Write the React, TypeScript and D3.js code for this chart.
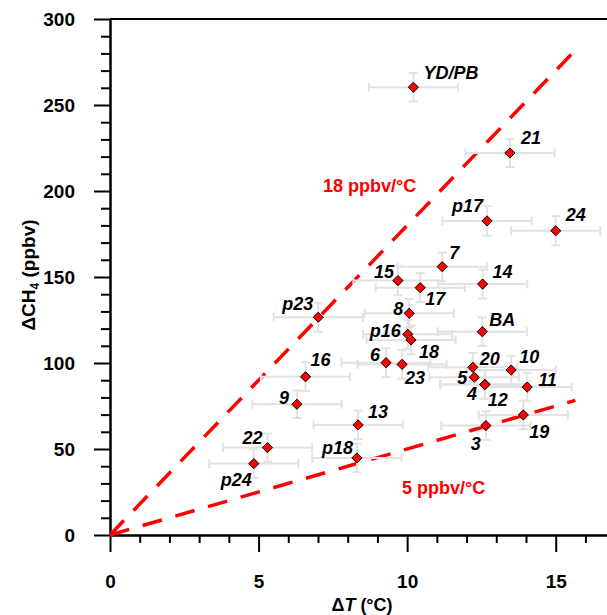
import React, { useEffect, useRef } from "react";
import * as d3 from "d3";

// ---------- data ----------
const pointLabels = ["YD/PB", "21", "p17", "24", "7", "15", "17", "14", "p23", "8", "BA", "p16", "18", "16", "6", "23", "20", "10", "5", "4", "12", "11", "9", "13", "19", "3", "22", "p18", "p24"];
const dT = [10.21, 13.46, 12.69, 15.0, 11.18, 9.69, 10.44, 12.54, 7.01, 10.07, 12.53, 10.02, 10.13, 6.58, 9.29, 9.83, 12.21, 13.5, 12.26, 12.62, 12.61, 14.04, 6.29, 8.35, 13.91, 12.65, 5.3, 8.31, 4.84];
const dCH4 = [260.3, 222.1, 182.6, 176.9, 156.0, 147.9, 143.8, 145.9, 126.6, 128.9, 118.2, 116.7, 113.4, 92.0, 100.2, 99.2, 97.5, 95.9, 91.7, 87.6, 87.4, 86.0, 76.0, 64.0, 69.8, 63.6, 50.8, 44.8, 41.5];
const dTErr = [1.5, 1.5, 1.5, 1.5, 1.5, 1.5, 1.5, 1.5, 1.5, 1.5, 1.5, 1.5, 1.5, 1.5, 1.5, 1.5, 1.5, 1.5, 1.5, 1.5, 1.5, 1.5, 1.5, 1.5, 1.5, 1.5, 1.5, 1.5, 1.5];
const dCH4Err = [8.3, 8.2, 8.6, 8.5, 8.2, 8.5, 8.4, 8.4, 8.4, 8.3, 8.3, 8.3, 8.3, 8.4, 8.4, 8.3, 8.3, 8.3, 8.3, 8.3, 8.3, 8.3, 8.0, 8.3, 8.3, 8.3, 8.2, 8.3, 8.3];

const xMajorTicks = [0, 5, 10, 15];
const xMinorTicks = [1, 2, 3, 4, 6, 7, 8, 9, 11, 12, 13, 14, 16];
const yMajorTicks = [0, 50, 100, 150, 200, 250, 300];
const yMinorTicks = [10, 20, 30, 40, 60, 70, 80, 90, 110, 120, 130, 140, 160, 170, 180, 190, 210, 220, 230, 240, 260, 270, 280, 290];

const slopes = [18, 5];
const slopeLabels = ["18 ppbv/°C", "5 ppbv/°C"];
const slopeLineEnd = [15.82, 15.66];

// ---------- layout ----------
const W = 607;
const H = 615;
const FONT = "'Liberation Sans', Arial, Helvetica, sans-serif";
const labelOffsets: Record<string, [string, number, number]> = {
  "YD/PB": ["start", 10, -15],
  "21": ["start", 11, -15],
  "p17": ["end", -4, -15],
  "24": ["start", 10, -16],
  "7": ["start", 7, -14],
  "15": ["end", -4, -9],
  "17": ["start", 5, 11],
  "14": ["start", 10, -12],
  "p23": ["end", -5, -14],
  "8": ["end", -6, -5],
  "BA": ["start", 7, -12],
  "p16": ["end", -7, -4],
  "18": ["start", 8, 12],
  "16": ["start", 5, -17],
  "6": ["end", -6, -8],
  "23": ["start", 3, 13],
  "20": ["start", 7, -9],
  "10": ["start", 8, -13],
  "5": ["end", -7, 0],
  "4": ["end", -8, 9],
  "12": ["start", 3, 15],
  "11": ["start", 11, -7],
  "9": ["end", -8, -7],
  "13": ["start", 10, -13],
  "19": ["start", 6, 17],
  "3": ["end", -5, 18],
  "22": ["end", -5, -10],
  "p18": ["end", -4, -10],
  "p24": ["end", -2, 16],
};
const slopeLabelPos = [
  [323, 191.5],
  [402, 493.5],
];

export default function App() {
  const ref = useRef<SVGSVGElement>(null);

  useEffect(() => {
    const svg = d3.select(ref.current);
    svg.selectAll("*").remove();

    const pxPerDeg = 148.57 / 5;
    const x = d3.scaleLinear().domain([0, 16.75]).range([110, 110 + 16.75 * pxPerDeg]);
    const y = d3.scaleLinear().domain([0, 300]).range([535, 19]);

    const styleAxis = (g: any) => {
      g.attr("font-family", FONT).attr("font-size", 19).attr("font-weight", "bold");
      g.selectAll("path,line").attr("stroke", "#000").attr("stroke-width", 2);
      g.selectAll("text").attr("fill", "#000");
    };

    // top frame line
    svg.append("line")
      .attr("x1", x(0)).attr("x2", W)
      .attr("y1", y(300)).attr("y2", y(300))
      .attr("stroke", "#000").attr("stroke-width", 2);

    // minor ticks
    svg.append("g").attr("transform", `translate(${x(0)},0)`)
      .call(d3.axisLeft(y).tickValues(yMinorTicks).tickSize(9).tickSizeOuter(0).tickFormat(() => ""))
      .call(styleAxis);
    svg.append("g").attr("transform", `translate(0,${y(0)})`)
      .call(d3.axisBottom(x).tickValues(xMinorTicks).tickSize(8).tickSizeOuter(0).tickFormat(() => ""))
      .call(styleAxis);

    // major axes
    svg.append("g").attr("transform", `translate(${x(0)},0)`)
      .call(d3.axisLeft(y).tickValues(yMajorTicks).tickSize(16).tickPadding(19).tickSizeOuter(0).tickFormat(d3.format("d")))
      .call(styleAxis);
    svg.append("g").attr("transform", `translate(0,${y(0)})`)
      .call(d3.axisBottom(x).tickValues(xMajorTicks).tickSize(17).tickPadding(23).tickSizeOuter(0).tickFormat(d3.format("d")))
      .call(styleAxis);

    // slope lines
    const line = d3.line<[number, number]>().x((d) => x(d[0])).y((d) => y(d[1]));
    slopes.forEach((s, i) => {
      svg.append("path")
        .attr("d", line([[0, 0], [slopeLineEnd[i], s * slopeLineEnd[i]]]))
        .attr("fill", "none")
        .attr("stroke", "#ff0000")
        .attr("stroke-width", 3.5)
        .attr("stroke-dasharray", "20 14");
      svg.append("text")
        .attr("x", slopeLabelPos[i][0]).attr("y", slopeLabelPos[i][1])
        .attr("font-family", FONT).attr("font-size", 18).attr("font-weight", "bold")
        .attr("fill", "#ff0000")
        .text(slopeLabels[i]);
    });

    // error bars
    const eb = svg.append("g").attr("stroke", "#e2e2e2").attr("stroke-width", 2).attr("fill", "none");
    const cap = 4.5;
    dT.forEach((t, i) => {
      const cx = x(t), cy = y(dCH4[i]);
      const xl = x(t - dTErr[i]), xr = x(t + dTErr[i]);
      const yt = y(dCH4[i] + dCH4Err[i]), yb = y(dCH4[i] - dCH4Err[i]);
      eb.append("line").attr("x1", xl).attr("x2", xr).attr("y1", cy).attr("y2", cy);
      eb.append("line").attr("x1", xl).attr("x2", xl).attr("y1", cy - cap).attr("y2", cy + cap);
      eb.append("line").attr("x1", xr).attr("x2", xr).attr("y1", cy - cap).attr("y2", cy + cap);
      eb.append("line").attr("x1", cx).attr("x2", cx).attr("y1", yt).attr("y2", yb);
      eb.append("line").attr("x1", cx - cap).attr("x2", cx + cap).attr("y1", yt).attr("y2", yt);
      eb.append("line").attr("x1", cx - cap).attr("x2", cx + cap).attr("y1", yb).attr("y2", yb);
    });

    // markers
    const diamond = d3.symbol().type(d3.symbolDiamond2).size(66);
    svg.append("g").selectAll("path")
      .data(dT.map((t, i) => [t, dCH4[i]]))
      .join("path")
      .attr("transform", (d) => `translate(${x(d[0])},${y(d[1])})`)
      .attr("d", diamond as any)
      .attr("fill", "#ff0000")
      .attr("stroke", "#000")
      .attr("stroke-width", 1);

    // point labels
    svg.append("g").selectAll("text")
      .data(pointLabels.map((l, i) => ({ l, t: dT[i], c: dCH4[i] })))
      .join("text")
      .attr("x", (d) => x(d.t) + labelOffsets[d.l][1])
      .attr("y", (d) => y(d.c) + labelOffsets[d.l][2] + 6.4)
      .attr("text-anchor", (d) => labelOffsets[d.l][0])
      .attr("font-family", FONT).attr("font-size", 18)
      .attr("font-weight", "bold").attr("font-style", "italic")
      .attr("fill", "#000")
      .text((d) => d.l);

    // axis titles
    const xt = svg.append("text")
      .attr("x", 362).attr("y", 610.5)
      .attr("text-anchor", "middle")
      .attr("font-family", FONT).attr("font-size", 18).attr("font-weight", "bold");
    xt.append("tspan").text("Δ");
    xt.append("tspan").attr("font-style", "italic").text("T");
    xt.append("tspan").text(" (°C)");

    const yt = svg.append("text")
      .attr("transform", "translate(35,275) rotate(-90)")
      .attr("text-anchor", "middle")
      .attr("font-family", FONT).attr("font-size", 19).attr("font-weight", "bold");
    yt.append("tspan").text("ΔCH");
    yt.append("tspan").attr("dy", 4).attr("font-size", 12).text("4");
    yt.append("tspan").attr("dy", -4).text(" (ppbv)");
  }, []);

  return (
    <svg
      ref={ref}
      width={W}
      height={H}
      style={{ position: "absolute", left: 0, top: 0, background: "#fff" }}
    />
  );
}
